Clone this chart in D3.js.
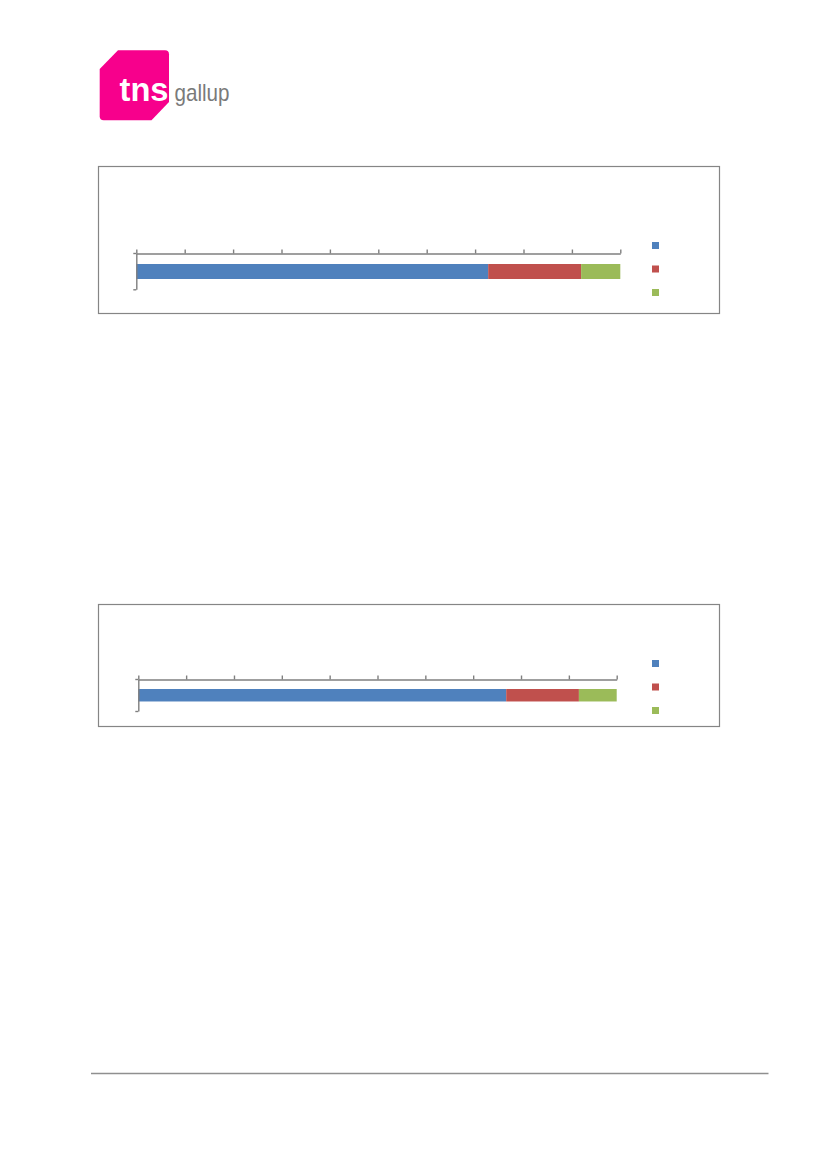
<!DOCTYPE html>
<html>
<head>
<meta charset="utf-8">
<script src="https://cdn.jsdelivr.net/npm/d3@7"></script>
<style>
  html, body { margin: 0; padding: 0; background: #fff; }
  svg { display: block; }
</style>
</head>
<body>
<svg id="page" width="827" height="1170"></svg>
<script>
// ---------- data ----------
const categories = [""];
const seriesNames = ["", "", ""];
const seriesColors = ["#4F81BD", "#C0504D", "#9BBB59"];
const tickValues = [0, 10, 20, 30, 40, 50, 60, 70, 80, 90, 100];
const chart1Values = [72.7, 19.2, 8.1];
const chart2Values = [76.9, 15.2, 7.9];

// ---------- page ----------
const svg = d3.select("#page");

// logo
const logo = svg.append("g");
logo.append("path")
  .attr("d", "M118,50.3 L165,50.3 Q169,50.3 169,54.3 L169,102 L151.5,120.3 L103.7,120.3 Q99.7,120.3 99.7,116.3 L99.7,69 Z")
  .attr("fill", "#F7008C");
logo.append("text")
  .attr("x", 119.5).attr("y", 101)
  .attr("font-family", "Liberation Sans, Arial, sans-serif")
  .attr("font-weight", "bold")
  .attr("font-size", 33)
  .attr("textLength", 49).attr("lengthAdjust", "spacingAndGlyphs")
  .attr("fill", "#fff")
  .text("tns");
logo.append("text")
  .attr("x", 174.5).attr("y", 101)
  .attr("font-family", "Liberation Sans Narrow, Liberation Sans, Arial, sans-serif")
  .attr("font-size", 24)
  .attr("textLength", 55).attr("lengthAdjust", "spacingAndGlyphs")
  .attr("fill", "#7a7a7a")
  .text("gallup");

// footer rule
svg.append("line")
  .attr("x1", 91).attr("x2", 768.5).attr("y1", 1073.5).attr("y2", 1073.5)
  .attr("stroke", "#8f8f8f").attr("stroke-width", 1.5);

function drawChart(cfg, values) {
  const g = svg.append("g");
  // frame
  g.append("rect")
    .attr("x", cfg.frame[0] + 0.5).attr("y", cfg.frame[1] + 0.5)
    .attr("width", cfg.frame[2]).attr("height", cfg.frame[3])
    .attr("fill", "#fff").attr("stroke", "#858585").attr("stroke-width", 1.2);

  const x = d3.scaleLinear().domain([0, 100]).range([cfg.x0, cfg.x1]);
  const y = d3.scaleBand().domain(categories).range([cfg.y0, cfg.y1]).paddingInner(0).paddingOuter(0);

  // stacked bars
  const row = {};
  seriesNames.forEach((n, i) => row["s" + i] = values[i]);
  const keys = seriesNames.map((n, i) => "s" + i);
  const stack = d3.stack().keys(keys)([row]);
  const bw = y.bandwidth();
  g.selectAll("g.series").data(stack).join("g")
    .attr("class", "series")
    .attr("fill", (d, i) => seriesColors[i])
    .selectAll("rect").data(d => d).join("rect")
    .attr("x", d => x(d[0]))
    .attr("width", d => x(d[1]) - x(d[0]))
    .attr("y", y(categories[0]) + bw * cfg.barTop)
    .attr("height", bw * cfg.barH);

  // x axis (top)
  const xa = g.append("g")
    .attr("transform", `translate(0,${cfg.y0 + 0.5})`)
    .call(d3.axisTop(x).tickValues(tickValues).tickFormat("").tickSize(4).tickSizeOuter(0));
  xa.selectAll("path, line").attr("stroke", "#7f7f7f").attr("stroke-width", 1.4);

  // y axis
  const yl = d3.scaleLinear().domain([0, 1]).range([cfg.y0, cfg.y1]);
  const ya = g.append("g")
    .attr("transform", `translate(${cfg.x0},0)`)
    .call(d3.axisLeft(yl).tickValues([0, 1]).tickFormat("").tickSize(3).tickSizeOuter(0));
  ya.selectAll("path, line").attr("stroke", "#7f7f7f").attr("stroke-width", 1.4);

  // legend
  const lg = g.append("g");
  seriesColors.forEach((c, i) => {
    lg.append("rect")
      .attr("x", 652).attr("y", cfg.legY[i])
      .attr("width", 7).attr("height", 7)
      .attr("fill", c);
    lg.append("text")
      .attr("x", 665).attr("y", cfg.legY[i] + 7)
      .attr("font-family", "Liberation Sans, Arial, sans-serif")
      .attr("font-size", 9).attr("fill", "#333")
      .text(seriesNames[i]);
  });
}

drawChart({
  frame: [98, 166, 621, 147],
  x0: 136.3, x1: 620.3, y0: 253, y1: 289.3,
  barTop: 0.303, barH: 0.413,
  legY: [242, 265.5, 289]
}, chart1Values);

drawChart({
  frame: [98, 604, 621, 122],
  x0: 138.3, x1: 616.7, y0: 679, y1: 711,
  barTop: 0.3125, barH: 0.39,
  legY: [660, 683.5, 707]
}, chart2Values);
</script>
</body>
</html>
